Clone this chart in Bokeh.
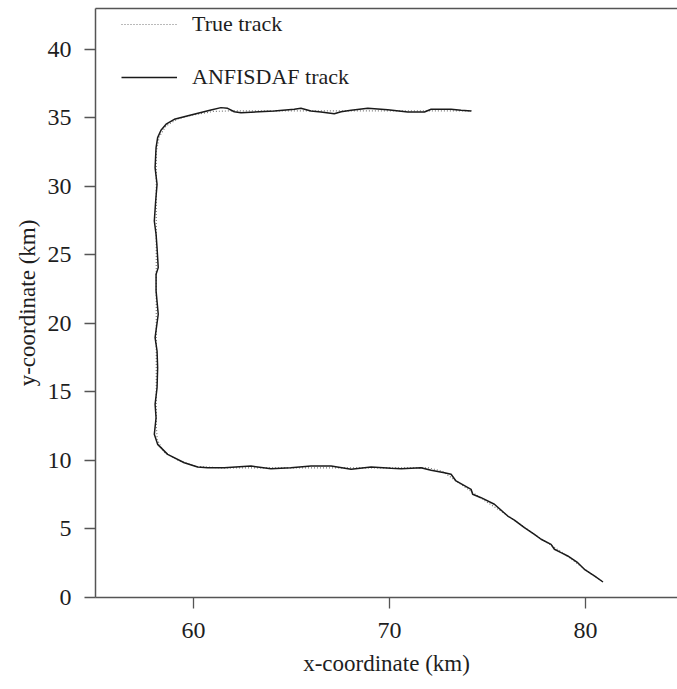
from bokeh.plotting import figure
from bokeh.models import Range1d, LinearAxis, Legend, LegendItem, FixedTicker
from bokeh.embed import file_html
from bokeh.resources import INLINE

# ---- data (km) ----
anf_x = [74.16, 73.65, 73.14, 72.12, 71.78, 70.93, 69.91, 68.89, 68.04, 67.53, 67.18, 66.5, 65.99,
         65.48, 65.14, 64.12, 62.42, 62.08, 61.74, 61.4, 60.89, 59.87, 59.02, 58.6, 58.34, 58.17,
         58.09, 58.04, 58.14, 58.07, 58.0, 58.09, 58.14, 58.2, 58.09, 58.09, 58.2, 58.04, 58.14,
         58.17, 58.14, 58.04, 58.09, 58.0, 58.17, 58.68, 59.53, 60.21,
         60.72, 61.57, 62.93, 63.95, 64.97, 65.99, 67.02, 68.04, 69.06, 70.08, 70.59, 71.61, 72.12,
         72.8, 73.14, 73.39, 74.16, 74.24, 74.67, 75.35, 76.03, 76.37, 76.88, 77.39, 77.73, 78.24,
         78.41, 78.75, 79.09, 79.6, 79.94, 80.45, 80.89]
anf_y = [35.49, 35.54, 35.61, 35.61, 35.41, 35.41, 35.58, 35.68, 35.54, 35.43, 35.29, 35.41, 35.49,
         35.68, 35.61, 35.49, 35.36, 35.43, 35.68, 35.73, 35.56, 35.19, 34.88, 34.52, 34.08, 33.54,
         32.81, 31.35, 30.14, 28.92, 27.46, 26.49, 25.51, 24.06, 23.57, 22.36, 20.66, 18.95, 17.98,
         16.76, 15.3, 14.09, 13.11, 11.9, 11.17, 10.44, 9.83, 9.52,
         9.47, 9.47, 9.59, 9.39, 9.47, 9.59, 9.59, 9.35, 9.52, 9.42, 9.39, 9.47, 9.28,
         9.1, 8.99, 8.5, 7.89, 7.53, 7.28, 6.8, 5.94, 5.65, 5.09, 4.61, 4.25, 3.88,
         3.52, 3.27, 3.03, 2.54, 2.06, 1.57, 1.13]

true_x = [74.2, 72.0, 70.0, 68.0, 66.0, 64.0, 62.0, 61.0, 60.0, 59.2, 58.6, 58.25, 58.1, 58.1,
          58.1, 58.1, 58.1, 58.1, 58.1, 58.1, 58.1, 58.15, 58.5, 59.3, 60.2, 61.5, 64.0, 67.0,
          70.0, 72.0, 72.7, 73.3, 74.5, 76.0, 77.5, 79.0, 80.3, 80.9]
true_y = [35.5, 35.5, 35.5, 35.5, 35.5, 35.5, 35.5, 35.45, 35.2, 34.9, 34.4, 33.6, 32.5, 30.0,
          27.5, 25.0, 22.5, 20.0, 17.5, 15.0, 12.5, 11.5, 10.6, 9.95, 9.55, 9.45, 9.45, 9.45,
          9.45, 9.45, 9.2, 8.6, 7.4, 6.0, 4.5, 3.1, 1.7, 1.15]

x_ticks = [60, 70, 80]
y_ticks = [0, 5, 10, 15, 20, 25, 30, 35, 40]

FONT = "Liberation Serif"
TXT = "#1e1e1e"
AX = "#555555"

p = figure(width=677, height=689, output_backend="svg", toolbar_location=None,
           x_range=Range1d(55, 84.69), y_range=Range1d(0, 42.96),
           min_border_left=95, min_border_right=0, min_border_top=8, min_border_bottom=92)
p.outline_line_color = None
p.grid.visible = False
p.background_fill_color = "white"
p.border_fill_color = "white"

r_true = p.line(true_x, true_y, line_color="#777777", line_width=1.2, line_dash="1 2")
r_anf = p.line(anf_x, anf_y, line_color="#1a1a1a", line_width=1.5)

for ax in (p.xaxis[0], p.yaxis[0]):
    ax.axis_line_color = AX
    ax.axis_line_width = 1.5
    ax.major_tick_line_color = AX
    ax.major_tick_line_width = 1.3
    ax.major_tick_in = 0
    ax.major_tick_out = 11
    ax.minor_tick_line_color = None
    ax.major_label_text_font = FONT
    ax.major_label_text_font_size = "24px"
    ax.major_label_text_color = TXT
    ax.axis_label_text_font = FONT
    ax.axis_label_text_font_size = "23px"
    ax.axis_label_text_font_style = "normal"
    ax.axis_label_text_color = TXT

p.xaxis[0].ticker = FixedTicker(ticks=x_ticks)
p.yaxis[0].ticker = FixedTicker(ticks=y_ticks)
p.xaxis[0].axis_label = "x-coordinate (km)"
p.yaxis[0].axis_label = "y-coordinate (km)"
p.xaxis[0].major_label_standoff = 14
p.yaxis[0].major_label_standoff = 13
p.xaxis[0].axis_label_standoff = 10
p.yaxis[0].axis_label_standoff = 5

top = LinearAxis(ticker=FixedTicker(ticks=[]), axis_line_color=AX, axis_line_width=1.5,
                 major_tick_line_color=None, minor_tick_line_color=None,
                 major_label_text_font_size="0px", major_label_standoff=0,
                 major_tick_in=0, major_tick_out=0)
p.add_layout(top, "above")

legend = Legend(items=[LegendItem(label="True track", renderers=[r_true]),
                       LegendItem(label="ANFISDAF track", renderers=[r_anf])],
                location=(26, 507), padding=0, margin=0, spacing=27,
                glyph_width=56, glyph_height=20, label_height=20, label_standoff=15,
                label_text_font=FONT, label_text_font_size="22px", label_text_color=TXT,
                border_line_color=None, background_fill_alpha=0)
p.add_layout(legend)

open("out.html", "w").write(file_html(p, INLINE))
